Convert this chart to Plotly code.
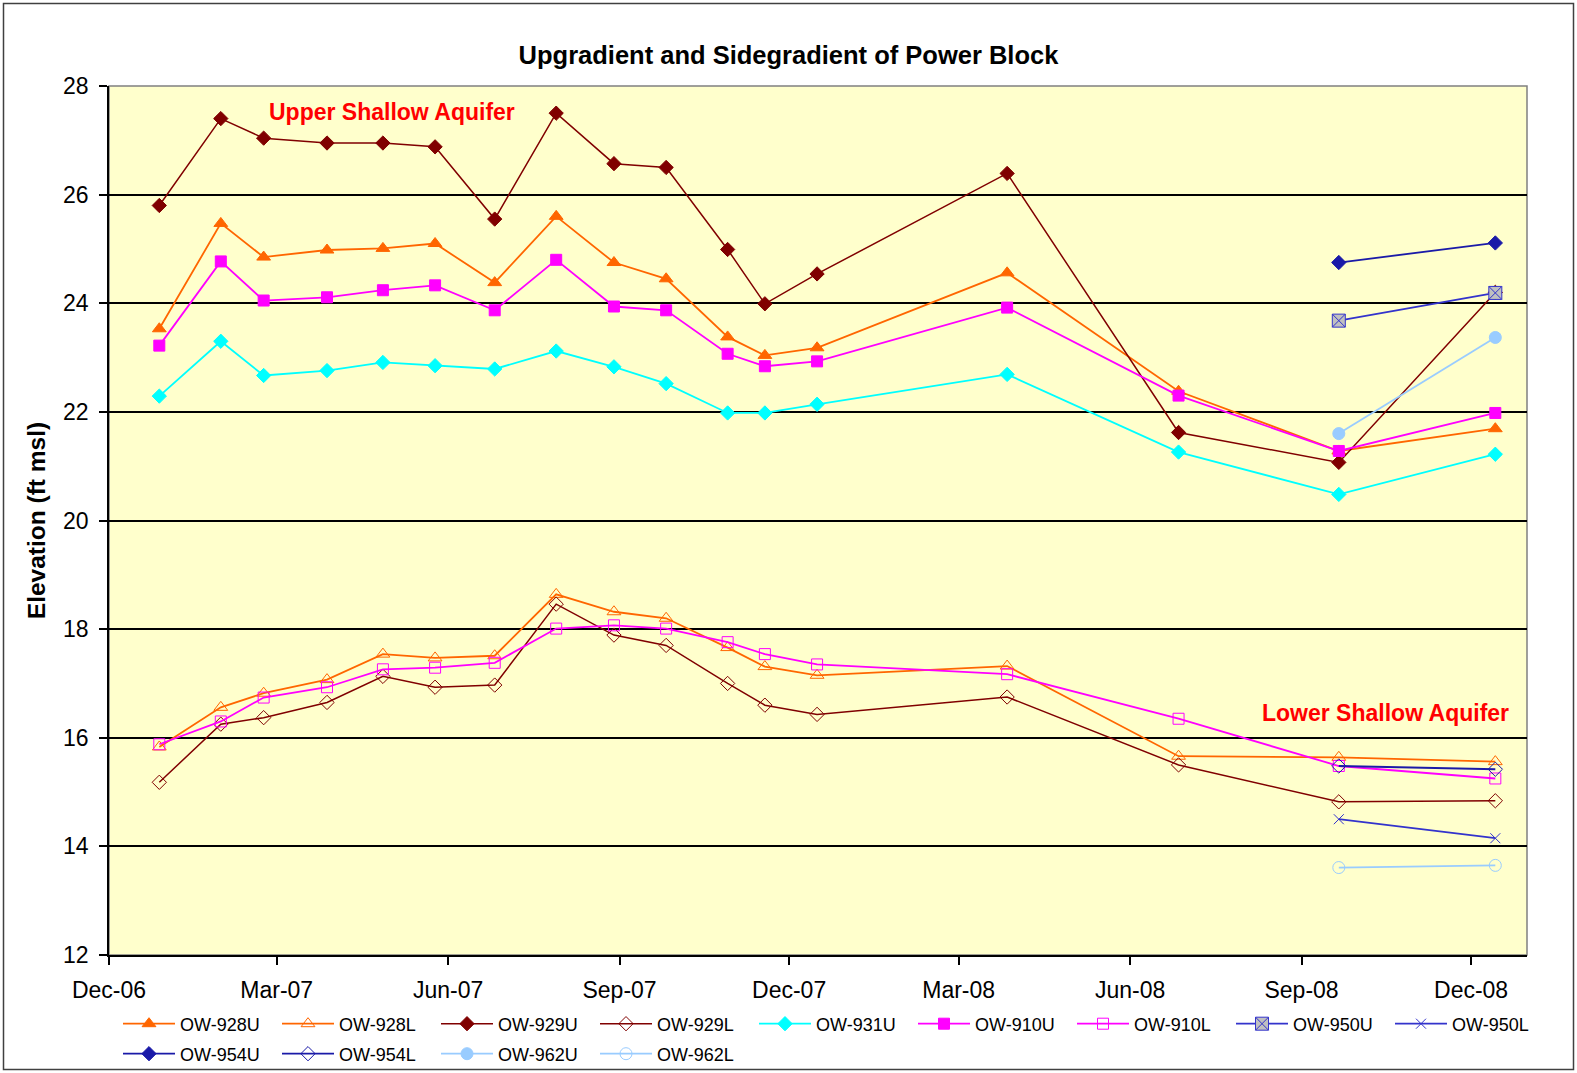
import plotly.graph_objects as go

# Sampling dates (monitoring rounds)
dates = ['2006-12-28', '2007-01-30', '2007-02-22', '2007-03-28', '2007-04-27',
         '2007-05-25', '2007-06-26', '2007-07-29', '2007-08-29', '2007-09-26',
         '2007-10-29', '2007-11-18', '2007-12-16', '2008-03-27', '2008-06-27',
         '2008-09-21', '2008-12-14']
late_dates = ['2008-09-21', '2008-12-14']

# Upper shallow aquifer wells (ft msl)
ow928u = [23.53, 25.47, 24.85, 24.98, 25.01, 25.10, 24.38, 25.60, 24.75, 24.45,
          23.38, 23.04, 23.18, 24.56, 22.38, 21.28, 21.69]
ow929u = [25.80, 27.40, 27.04, 26.95, 26.95, 26.88, 25.55, 27.50, 26.57, 26.50,
          24.99, 23.99, 24.54, 26.39, 21.62, 21.07, 24.20]
ow931u = [22.29, 23.30, 22.67, 22.76, 22.91, 22.85, 22.79, 23.12, 22.83, 22.52,
          21.98, 21.98, 22.14, 22.69, 21.26, 20.48, 21.22]
ow910u = [23.22, 24.77, 24.05, 24.11, 24.24, 24.33, 23.87, 24.80, 23.94, 23.87,
          23.07, 22.84, 22.93, 23.92, 22.30, 21.28, 21.98]
ow950u = [23.68, 24.19]
ow954u = [24.75, 25.11]
ow962u = [21.60, 23.37]

# Lower shallow aquifer wells (ft msl)
ow928l = [15.83, 16.56, 16.82, 17.07, 17.54, 17.47, 17.51, 18.64, 18.32, 18.20,
          17.66, 17.31, 17.15, 17.32, 15.66, 15.64, 15.56]
ow929l = [15.18, 16.25, 16.37, 16.65, 17.13, 16.93, 16.97, 18.46, 17.89, 17.70,
          17.00, 16.60, 16.43, 16.75, 15.50, 14.82, 14.84]
ow910l = [15.88, 16.30, 16.74, 16.93, 17.26, 17.29, 17.38, 18.01, 18.07, 18.01,
          17.76, 17.54, 17.35, 17.17, 16.35, 15.48, 15.25]
ow950l = [14.50, 14.15]
ow954l = [15.48, 15.42]
ow962l = [13.61, 13.65]

ORANGE = '#FF6600'
DKRED = '#800000'
CYAN = '#00FFFF'
MAGENTA = '#FF00FF'
BLUE950 = '#3333CC'
BLUE954 = '#1A1AA8'
LTBLUE = '#99CCFF'

FONT = 'Liberation Sans, Arial, sans-serif'

fig = go.Figure()


def add(name, x, y, color, symbol, size, legend, fill=None, mline=None, lw=1.8):
    marker = dict(symbol=symbol, size=size, color=fill if fill else color,
                  line=dict(color=mline if mline else color, width=1))
    fig.add_trace(go.Scatter(
        x=x, y=y, name=name, mode='lines+markers',
        line=dict(color=color, width=lw), marker=marker, legend=legend))


# Row 1 of the legend
add('OW-928U', dates, ow928u, ORANGE, 'triangle-up', 12, 'legend')
add('OW-928L', dates, ow928l, ORANGE, 'triangle-up-open', 12, 'legend')
add('OW-929U', dates, ow929u, DKRED, 'diamond', 11, 'legend', lw=1.5)
add('OW-929L', dates, ow929l, DKRED, 'diamond-open', 11, 'legend', lw=1.5)
add('OW-931U', dates, ow931u, CYAN, 'diamond', 11, 'legend')
add('OW-910U', dates, ow910u, MAGENTA, 'square', 11, 'legend')
add('OW-910L', dates, ow910l, MAGENTA, 'square-open', 11, 'legend')
add('OW-950U', late_dates, ow950u, BLUE950, 'square-x', 13, 'legend',
    fill='#C0C0C0', mline=BLUE950)
add('OW-950L', late_dates, ow950l, BLUE950, 'x-thin-open', 10, 'legend')
# Row 2 of the legend
add('OW-954U', late_dates, ow954u, BLUE954, 'diamond', 11, 'legend2')
add('OW-954L', late_dates, ow954l, BLUE954, 'diamond-open', 11, 'legend2')
add('OW-962U', late_dates, ow962u, LTBLUE, 'circle', 12, 'legend2')
add('OW-962L', late_dates, ow962l, LTBLUE, 'circle-open', 12, 'legend2')

W, H = 1577, 1073
L, R, T, B = 109, 50, 86, 118
pw, ph = W - L - R, H - T - B


def px(xpix):
    return (xpix - L) / pw


def py(ypix):
    return 1 - (ypix - T) / ph


legend_common = dict(
    orientation='h', xanchor='left', yanchor='middle',
    font=dict(family=FONT, size=18, color='#000000'),
    bgcolor='rgba(0,0,0,0)', borderwidth=0,
    entrywidth=82, entrywidthmode='pixels', itemwidth=52, indentation=10,
    itemclick=False, itemdoubleclick=False,
)

fig.update_layout(
    width=W, height=H,
    margin=dict(l=L, r=R, t=T, b=B, autoexpand=False),
    paper_bgcolor='#FFFFFF',
    plot_bgcolor='#FFFFCC',
    font=dict(family=FONT, color='#000000'),
    title=dict(text='<b>Upgradient and Sidegradient of Power Block</b>',
               x=0.5, xref='container', xanchor='center',
               y=1 - 55 / H, yref='container', yanchor='middle',
               font=dict(family=FONT, size=25.5, color='#000000')),
    legend=dict(x=px(108), y=py(1024), **legend_common),
    legend2=dict(x=px(108), y=py(1054), **legend_common),
    showlegend=True,
    hovermode=False,
)

fig.update_xaxes(
    type='date',
    range=['2006-12-01', '2008-12-31'],
    tick0='2006-12-01', dtick='M3', tickformat='%b-%y',
    ticks='outside', ticklen=8, tickwidth=1.5, tickcolor='#000000',
    showline=True, linecolor='#000000', linewidth=1.5,
    showgrid=False, zeroline=False, automargin=False,
    tickfont=dict(family=FONT, size=23, color='#000000'),
    ticklabelstandoff=6,
)

fig.update_yaxes(
    range=[12, 28], dtick=2, tick0=12,
    ticks='outside', ticklen=8, tickwidth=1.5, tickcolor='#000000',
    showline=True, linecolor='#000000', linewidth=1.5,
    showgrid=True, gridcolor='#000000', gridwidth=1.5,
    zeroline=False, automargin=False,
    tickfont=dict(family=FONT, size=23, color='#000000'),
    ticklabelstandoff=6,
    title=dict(text='<b>Elevation (ft msl)</b>', standoff=10,
               font=dict(family=FONT, size=24.5, color='#000000')),
)

# Plot-area frame and outer chart border
fig.add_shape(type='rect', xref='paper', yref='paper', x0=0, x1=1, y0=0, y1=1,
              line=dict(color='#808080', width=1.5), layer='below')
fig.add_shape(type='rect', xref='paper', yref='paper',
              x0=px(3.5), x1=px(1573.5), y0=py(1069.5), y1=py(3.5),
              line=dict(color='#404040', width=1.5), layer='below')

fig.add_annotation(text='<b>Upper Shallow Aquifer</b>', xref='paper', yref='paper',
                   x=px(392), y=py(112), xanchor='center', yanchor='middle',
                   showarrow=False,
                   font=dict(family=FONT, size=23, color='#FF0000'))
fig.add_annotation(text='<b>Lower Shallow Aquifer</b>', xref='paper', yref='paper',
                   x=px(1385), y=py(713), xanchor='center', yanchor='middle',
                   showarrow=False,
                   font=dict(family=FONT, size=23, color='#FF0000'))

fig.write_html('out.html')
